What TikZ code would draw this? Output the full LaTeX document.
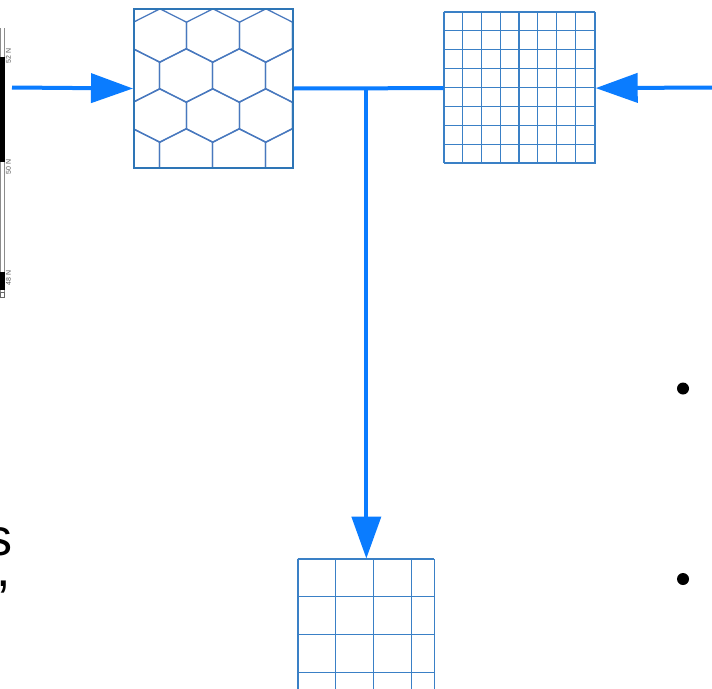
\documentclass[tikz,border=0pt]{standalone}
\usepackage{fontspec}
\setmainfont{Liberation Sans}
\usetikzlibrary{arrows.meta}
\definecolor{arrowblue}{RGB}{10,124,255}
\definecolor{boxborder}{RGB}{46,117,182}
\definecolor{hexline}{RGB}{72,120,190}
\definecolor{gridline}{RGB}{58,128,198}
\tikzset{
  conn/.style={draw=arrowblue, line width=4pt},
  bigtip/.style={-{Triangle[length=42pt,width=29pt]}},
  hexbox/.style={draw=boxborder, line width=2pt, inner sep=0pt, minimum width=159pt, minimum height=159pt, anchor=north west},
  gridbox/.style={draw=gridline, line width=1.2pt, inner sep=0pt, anchor=north west},
  hexedge/.style={draw=hexline, line width=1.3pt},
  gline/.style={draw=gridline, line width=1.1pt},
  latlabel/.style={rotate=90, font=\fontsize{7}{8}\selectfont, text=black!65, inner sep=0pt},
  bulletdot/.style={circle, fill=black, minimum size=12pt, inner sep=0pt},
  bigtext/.style={font=\fontsize{52}{60}\selectfont, inner sep=0pt}
}
\begin{document}
\begin{tikzpicture}[x=1pt,y=-1pt]
\useasboundingbox (0,0) rectangle (712,688);
\clip (0,0) rectangle (712,688);
\fill[white] (0,0) rectangle (712,688);

% left map strip
\draw[black!45, line width=0.7pt] (0.8,28) -- (0.8,297);
\draw[black!45, line width=0.7pt] (4.2,28) -- (4.2,297);
\fill[black] (0,57) rectangle (4.8,162);
\fill[black] (0,272) rectangle (4.8,290);
\draw[black!60, line width=0.6pt] (0.5,292) rectangle (4.5,297.5);
\node[latlabel] (l52) at (8.5,56) {52 N};
\node[latlabel] (l50) at (8.5,167) {50 N};
\node[latlabel] (l48) at (8.5,278) {48 N};

% hexagon box
\begin{scope}
  \clip (133,8) rectangle (292,167);
  \foreach \cy in {35.5,115.5} {
    \foreach \cx in {107,160,213,266,319} {
      \draw[hexedge] (\cx,\cy-26.67) -- ++(26.5,13.33) -- ++(0,26.67) -- ++(-26.5,13.33) -- ++(-26.5,-13.33) -- ++(0,-26.67) -- cycle;
    }
  }
  \foreach \cy in {75.5,155.5} {
    \foreach \cx in {133,186,239,292} {
      \draw[hexedge] (\cx,\cy-26.67) -- ++(26.5,13.33) -- ++(0,26.67) -- ++(-26.5,13.33) -- ++(-26.5,-13.33) -- ++(0,-26.67) -- cycle;
    }
  }
\end{scope}
\node[hexbox] (hex) at (133,8) {};

% fine grid box
\foreach \i in {0,...,8} {
  \draw[gline] (443.5+\i*18.875,12) -- ++(0,151);
  \draw[gline] (443.5,12+\i*18.875) -- ++(151,0);
}
\node[gridbox, minimum width=151pt, minimum height=151pt] (fine) at (443.5,12) {};

% bottom coarse grid
\foreach \x in {297.5,335.4,373.3,411.2} {
  \draw[gline] (\x,558.5) -- (\x,700);
}
\foreach \y in {558.5,596.4,634.3,672.2} {
  \draw[gline] (297.5,\y) -- (434,\y);
}
\node[gridbox, minimum width=136.5pt, minimum height=150pt] (low) at (297.5,558.5) {};

% connectors
\coordinate (ls) at (12,87.5);
\coordinate (rs) at (713,87.5);
\coordinate (j) at (hex.east -| low.north);
\draw[conn, bigtip] (ls) -- (hex.west);
\draw[conn, bigtip] (rs) -- (fine.east);
\draw[conn] (hex.east) -- (fine.west);
\draw[conn, bigtip] (j) -- (low.north);

% text fragments
\node[bigtext, anchor=base east] (s) at (13,555) {s};
\node[bigtext, anchor=base east] (comma) at (11,586) {,};

% bullets
\node[bulletdot] (b1) at (683,388.5) {};
\node[bulletdot] (b2) at (683,579) {};
\end{tikzpicture}
\end{document}
